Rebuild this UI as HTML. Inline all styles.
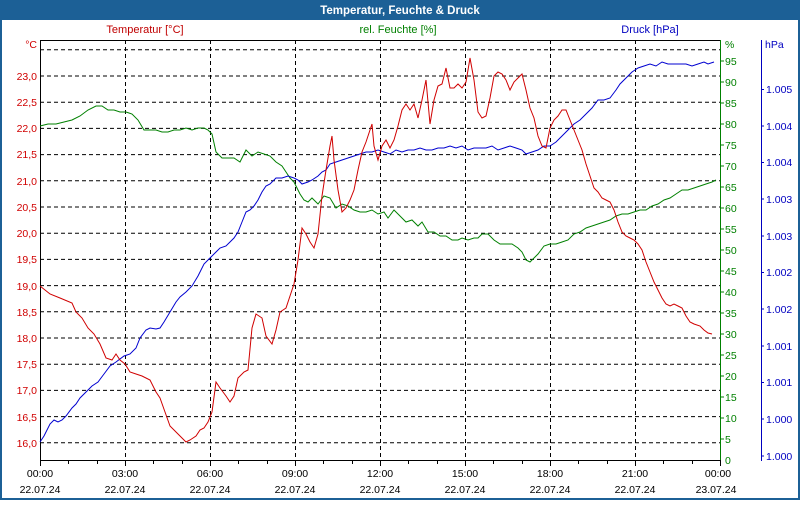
<!DOCTYPE html>
<html><head><meta charset="utf-8"><style>
html,body{margin:0;padding:0;background:#fff}
body{width:800px;height:500px;overflow:hidden;font-family:"Liberation Sans",sans-serif}
</style></head><body>
<svg width="800" height="500" xmlns="http://www.w3.org/2000/svg" font-family="Liberation Sans, sans-serif" font-size="11">
<rect x="0" y="0" width="800" height="500" fill="#1c6096"/>
<rect x="2" y="20" width="796" height="478" fill="#fff"/>
<text x="400" y="14" fill="#fff" font-weight="bold" text-anchor="middle" font-size="11.5">Temperatur, Feuchte &amp; Druck</text>
<text x="145" y="33" fill="#c00000" text-anchor="middle">Temperatur [°C]</text>
<text x="398" y="33" fill="#008000" text-anchor="middle">rel. Feuchte [%]</text>
<text x="650" y="33" fill="#0000c0" text-anchor="middle">Druck [hPa]</text>
<g stroke="#000" stroke-dasharray="4,3" stroke-width="1">
<line x1="40" x2="720" y1="49.8" y2="49.8"/><line x1="40" x2="720" y1="76" y2="76"/><line x1="40" x2="720" y1="102.2" y2="102.2"/><line x1="40" x2="720" y1="128.4" y2="128.4"/><line x1="40" x2="720" y1="154.6" y2="154.6"/><line x1="40" x2="720" y1="180.8" y2="180.8"/><line x1="40" x2="720" y1="207" y2="207"/><line x1="40" x2="720" y1="233.2" y2="233.2"/><line x1="40" x2="720" y1="259.4" y2="259.4"/><line x1="40" x2="720" y1="285.6" y2="285.6"/><line x1="40" x2="720" y1="311.8" y2="311.8"/><line x1="40" x2="720" y1="338" y2="338"/><line x1="40" x2="720" y1="364.2" y2="364.2"/><line x1="40" x2="720" y1="390.4" y2="390.4"/><line x1="40" x2="720" y1="416.6" y2="416.6"/><line x1="40" x2="720" y1="442.8" y2="442.8"/>
<line x1="125.5" x2="125.5" y1="40" y2="460"/><line x1="210.5" x2="210.5" y1="40" y2="460"/><line x1="295.5" x2="295.5" y1="40" y2="460"/><line x1="380.5" x2="380.5" y1="40" y2="460"/><line x1="465.5" x2="465.5" y1="40" y2="460"/><line x1="550.5" x2="550.5" y1="40" y2="460"/><line x1="635.5" x2="635.5" y1="40" y2="460"/>
</g>
<line x1="40.5" y1="40" x2="40.5" y2="466" stroke="#000"/>
<line x1="40" y1="40.5" x2="720" y2="40.5" stroke="#000"/>
<line x1="40" y1="460.5" x2="720" y2="460.5" stroke="#000"/>
<line x1="720.5" y1="40" x2="720.5" y2="461" stroke="#008000"/>
<line x1="761.5" y1="40" x2="761.5" y2="461" stroke="#0000c0"/>
<g stroke="#000">
<line x1="40.5" x2="40.5" y1="460" y2="466"/><line x1="68.5" x2="68.5" y1="460" y2="464"/><line x1="97.5" x2="97.5" y1="460" y2="464"/><line x1="125.5" x2="125.5" y1="460" y2="466"/><line x1="153.5" x2="153.5" y1="460" y2="464"/><line x1="182.5" x2="182.5" y1="460" y2="464"/><line x1="210.5" x2="210.5" y1="460" y2="466"/><line x1="238.5" x2="238.5" y1="460" y2="464"/><line x1="267.5" x2="267.5" y1="460" y2="464"/><line x1="295.5" x2="295.5" y1="460" y2="466"/><line x1="323.5" x2="323.5" y1="460" y2="464"/><line x1="352.5" x2="352.5" y1="460" y2="464"/><line x1="380.5" x2="380.5" y1="460" y2="466"/><line x1="408.5" x2="408.5" y1="460" y2="464"/><line x1="437.5" x2="437.5" y1="460" y2="464"/><line x1="465.5" x2="465.5" y1="460" y2="466"/><line x1="493.5" x2="493.5" y1="460" y2="464"/><line x1="522.5" x2="522.5" y1="460" y2="464"/><line x1="550.5" x2="550.5" y1="460" y2="466"/><line x1="578.5" x2="578.5" y1="460" y2="464"/><line x1="607.5" x2="607.5" y1="460" y2="464"/><line x1="635.5" x2="635.5" y1="460" y2="466"/><line x1="663.5" x2="663.5" y1="460" y2="464"/><line x1="692.5" x2="692.5" y1="460" y2="464"/><line x1="720.5" x2="720.5" y1="460" y2="466"/>
</g>
<g fill="#000" text-anchor="middle" font-size="10.5">
<text x="40" y="477">00:00</text><text x="125" y="477">03:00</text><text x="210" y="477">06:00</text><text x="295" y="477">09:00</text><text x="380" y="477">12:00</text><text x="465" y="477">15:00</text><text x="550" y="477">18:00</text><text x="635" y="477">21:00</text><text x="718" y="477">00:00</text>
<text x="40" y="493">22.07.24</text><text x="125" y="493">22.07.24</text><text x="210" y="493">22.07.24</text><text x="295" y="493">22.07.24</text><text x="380" y="493">22.07.24</text><text x="465" y="493">22.07.24</text><text x="550" y="493">22.07.24</text><text x="635" y="493">22.07.24</text><text x="716" y="493">23.07.24</text>
</g>
<g fill="#d00000" text-anchor="end" font-size="10.5">
<text x="37" y="48">°C</text>
<text x="37" y="80">23,0</text><text x="37" y="106">22,5</text><text x="37" y="132">22,0</text><text x="37" y="158">21,5</text><text x="37" y="185">21,0</text><text x="37" y="211">20,5</text><text x="37" y="237">20,0</text><text x="37" y="263">19,5</text><text x="37" y="290">19,0</text><text x="37" y="316">18,5</text><text x="37" y="342">18,0</text><text x="37" y="368">17,5</text><text x="37" y="394">17,0</text><text x="37" y="421">16,5</text><text x="37" y="447">16,0</text>
</g>
<g fill="#008000" font-size="10.5">
<text x="725" y="48">%</text>
<text x="725" y="65">95</text><text x="725" y="86">90</text><text x="725" y="107">85</text><text x="725" y="128">80</text><text x="725" y="149">75</text><text x="725" y="170">70</text><text x="725" y="191">65</text><text x="725" y="212">60</text><text x="725" y="233">55</text><text x="725" y="254">50</text><text x="725" y="275">45</text><text x="725" y="296">40</text><text x="725" y="317">35</text><text x="725" y="338">30</text><text x="725" y="359">25</text><text x="725" y="380">20</text><text x="725" y="401">15</text><text x="725" y="422">10</text><text x="725" y="443">5</text><text x="725" y="464">0</text>
</g>
<g stroke="#008000"><line x1="720" x2="724" y1="61" y2="61"/><line x1="720" x2="724" y1="82" y2="82"/><line x1="720" x2="724" y1="103" y2="103"/><line x1="720" x2="724" y1="124" y2="124"/><line x1="720" x2="724" y1="145" y2="145"/><line x1="720" x2="724" y1="166" y2="166"/><line x1="720" x2="724" y1="187" y2="187"/><line x1="720" x2="724" y1="208" y2="208"/><line x1="720" x2="724" y1="229" y2="229"/><line x1="720" x2="724" y1="250" y2="250"/><line x1="720" x2="724" y1="271" y2="271"/><line x1="720" x2="724" y1="292" y2="292"/><line x1="720" x2="724" y1="313" y2="313"/><line x1="720" x2="724" y1="334" y2="334"/><line x1="720" x2="724" y1="355" y2="355"/><line x1="720" x2="724" y1="376" y2="376"/><line x1="720" x2="724" y1="397" y2="397"/><line x1="720" x2="724" y1="418" y2="418"/><line x1="720" x2="724" y1="439" y2="439"/></g>
<g fill="#0000c0" font-size="10.5">
<text x="765" y="48">hPa</text>
<text x="766" y="93">1.005</text><text x="766" y="130">1.004</text><text x="766" y="166">1.004</text><text x="766" y="203">1.003</text><text x="766" y="240">1.003</text><text x="766" y="276">1.002</text><text x="766" y="313">1.002</text><text x="766" y="350">1.001</text><text x="766" y="386">1.001</text><text x="766" y="423">1.000</text><text x="766" y="460">1.000</text>
</g>
<g stroke="#0000c0"><line x1="761" x2="764" y1="89.5" y2="89.5"/><line x1="761" x2="764" y1="126" y2="126"/><line x1="761" x2="764" y1="162.5" y2="162.5"/><line x1="761" x2="764" y1="199" y2="199"/><line x1="761" x2="764" y1="236" y2="236"/><line x1="761" x2="764" y1="272.5" y2="272.5"/><line x1="761" x2="764" y1="309" y2="309"/><line x1="761" x2="764" y1="346" y2="346"/><line x1="761" x2="764" y1="382.5" y2="382.5"/><line x1="761" x2="764" y1="419" y2="419"/><line x1="761" x2="764" y1="456" y2="456"/></g>
<polyline fill="none" stroke="#008000" stroke-width="1" points="40,126 48,124 56,124 64,122 72,120 80,116 88,110 96,106 102,106 108,110 114,110 120,112 126,112 132,114 138,120 144,130 150,130 156,130 162,132 168,132 174,130 180,130 186,128 192,130 198,128 204,128 208,130 212,134 216,152 222,158 228,158 234,158 240,162 246,150 252,156 258,152 264,154 270,156 276,162 282,166 286,172 290,178 294,182 300,194 304,200 308,202 312,198 318,204 324,196 330,198 336,208 342,204 348,206 354,210 360,212 366,212 372,210 378,214 384,212 388,218 394,210 400,216 406,222 412,220 418,226 422,222 428,232 434,232 440,236 446,236 452,240 458,240 462,238 468,240 474,238 478,238 482,234 488,234 494,240 500,244 506,244 512,244 518,248 522,252 526,260 530,262 534,258 538,254 544,246 550,244 556,244 562,242 568,240 574,234 580,232 586,228 592,226 598,224 604,222 610,220 616,216 622,214 628,214 634,212 640,210 646,210 652,206 658,204 664,200 670,198 676,194 682,190 688,190 694,188 700,186 706,184 712,182 716,180"/>
<polyline fill="none" stroke="#0000d0" stroke-width="1" points="40,442 44,436 50,424 54,420 58,422 62,420 66,416 72,408 76,404 80,398 86,392 92,386 98,382 104,374 110,366 116,362 124,356 130,354 136,348 140,338 146,330 150,328 156,329 160,328 164,322 170,312 176,302 180,297 186,292 192,286 198,276 204,264 210,258 216,252 220,248 226,246 230,242 234,238 238,232 242,222 246,212 250,210 254,206 258,200 262,192 266,186 270,184 276,178 282,178 288,176 294,178 298,180 302,184 308,182 312,180 318,176 322,172 326,170 330,164 336,162 342,160 348,158 354,156 360,154 366,152 372,152 378,150 384,152 390,154 396,150 402,152 408,150 414,150 420,148 426,150 432,150 438,148 444,148 450,146 456,148 462,146 468,150 474,148 480,148 486,148 492,146 498,150 504,148 510,146 516,148 522,150 526,154 532,152 538,150 544,146 550,146 556,142 562,136 568,130 574,124 580,120 586,114 592,108 598,100 604,100 610,98 616,90 620,84 626,78 632,72 638,68 644,66 650,64 656,66 662,62 668,64 674,64 680,64 686,64 692,66 698,64 704,62 708,64 714,62"/>
<polyline fill="none" stroke="#d00000" stroke-width="1" points="40,286 50,294 60,298 72,303 76,312 82,318 88,328 94,334 100,344 106,358 112,360 116,354 120,360 125,364 130,372 136,374 142,376 150,380 156,392 160,398 165,412 170,426 178,434 186,442 190,440 196,436 200,430 204,428 208,422 212,412 216,382 220,388 226,396 230,402 234,396 238,378 244,372 248,370 252,328 256,314 262,318 266,336 272,344 276,330 280,312 286,308 290,296 294,284 298,260 302,228 306,234 310,242 314,248 318,234 322,196 326,170 330,146 332,136 334,160 338,190 342,212 346,208 350,200 354,190 358,170 362,152 366,142 370,130 372,124 374,146 378,160 382,146 386,140 390,148 394,140 398,126 402,110 406,104 410,110 414,104 418,118 422,100 426,80 430,124 434,100 438,86 442,84 446,68 450,88 454,88 458,84 462,88 466,82 470,58 474,80 478,112 482,118 486,116 490,98 494,76 498,72 502,74 506,80 510,90 514,82 518,78 522,74 526,90 530,108 534,118 538,136 542,146 546,148 550,128 554,120 558,116 562,110 566,110 570,120 574,130 578,140 582,150 586,164 590,176 594,188 598,192 602,198 606,200 610,202 614,210 618,222 622,232 626,236 630,238 634,240 638,244 642,250 646,262 650,272 654,282 658,290 662,298 666,304 670,306 674,304 678,306 682,308 686,316 690,322 694,324 700,326 704,330 708,333 712,334"/>
</svg>
</body></html>
